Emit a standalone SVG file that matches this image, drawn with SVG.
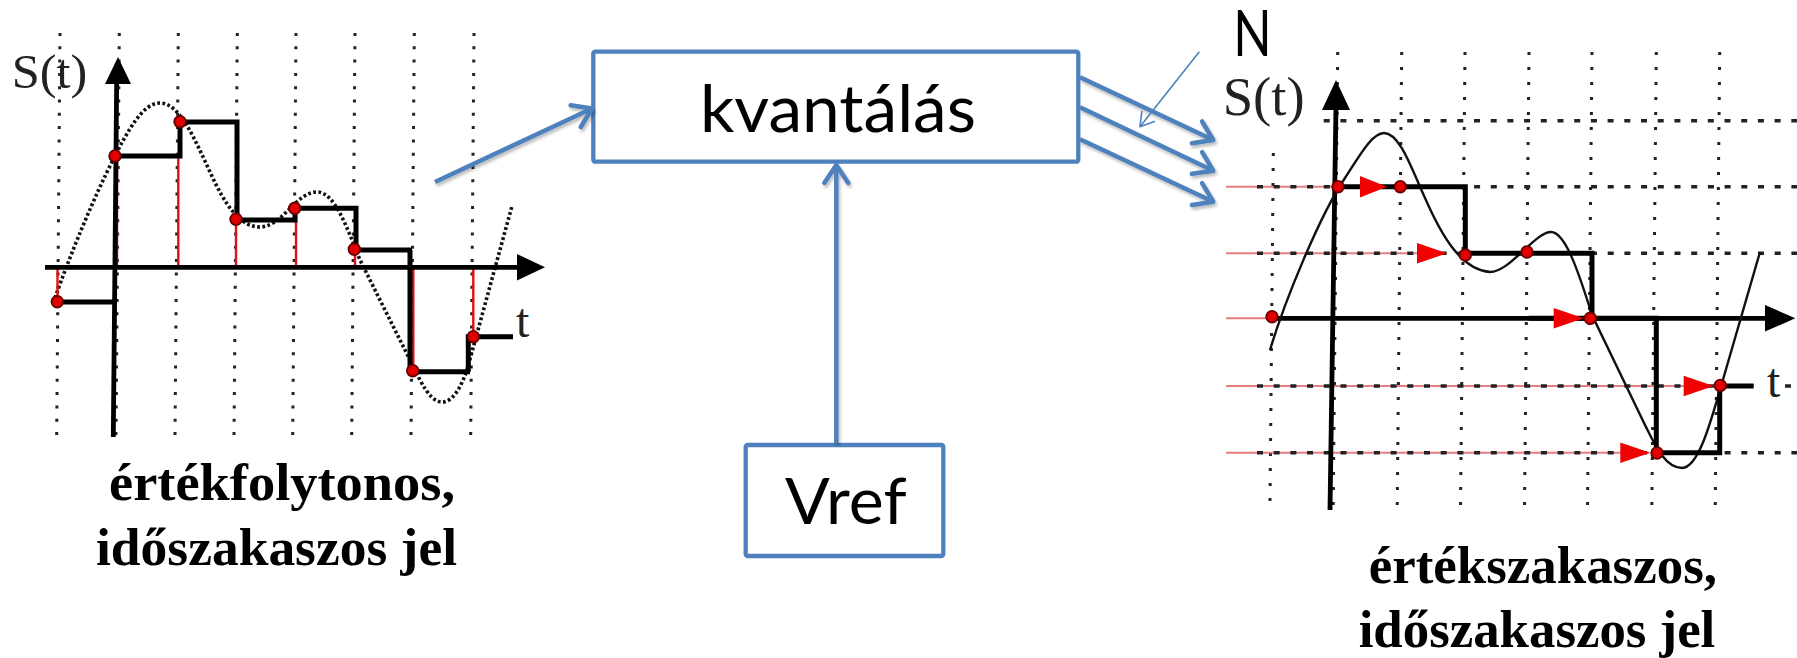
<svg xmlns="http://www.w3.org/2000/svg" width="1797" height="658" viewBox="0 0 1797 658">
<style>
.blue{fill:none;stroke:#4F81BD;stroke-width:4.5}
.box{fill:#fff;stroke:#4F81BD;stroke-width:4.3}
.lbl{font-family:Lato,"Open Sans","Liberation Sans",sans-serif;fill:#000}
.ser{font-family:"Liberation Serif","Times New Roman",serif}
.cap{font-family:"Liberation Serif","Times New Roman",serif;font-weight:bold;font-size:53px;fill:#000}
.vdotL{stroke:#222;stroke-width:3;stroke-dasharray:3 10.3;fill:none}
.vdotR{stroke:#222;stroke-width:3;stroke-dasharray:3 12;fill:none}
.hdash{stroke:#222;stroke-width:3.5;stroke-dasharray:6 10.7;fill:none}
.ax{stroke:#000;stroke-width:4.8;fill:none}
.step{stroke:#000;stroke-width:5;fill:none;stroke-linejoin:miter}
.redv{stroke:#e01010;stroke-width:2.4;fill:none}
.redh{stroke:#e06060;stroke-width:2;fill:none;opacity:0.8}
.dot{fill:#e00000;stroke:#600;stroke-width:1.8}
.rarr{fill:#f00000}
</style>
<defs>
<marker id="ah" markerUnits="userSpaceOnUse" viewBox="-24 -16 28 32" refX="0" refY="0" markerWidth="28" markerHeight="32" orient="auto" overflow="visible">
<path d="M-18,-12 L0,0 L-18,12" fill="none" stroke="#4F81BD" stroke-width="4.5" stroke-linecap="round" stroke-linejoin="round"/>
</marker>
<marker id="ahThin" markerUnits="userSpaceOnUse" viewBox="-16 -10 20 20" refX="0" refY="0" markerWidth="20" markerHeight="20" orient="auto" overflow="visible">
<path d="M-13,-8 L0,0 L-13,8" fill="none" stroke="#4F81BD" stroke-width="1.6" stroke-linecap="round" stroke-linejoin="round"/>
</marker>
<filter id="sh" x="-10%" y="-10%" width="130%" height="140%">
<feDropShadow dx="1.5" dy="2.5" stdDeviation="1.8" flood-color="#000" flood-opacity="0.28"/>
</filter>
</defs>

<!-- Left plot: continuous-value, discrete-time signal -->
<g id="left-plot">
<g>
<line class="vdotL" x1="60" y1="33" x2="56.7" y2="436"/>
<line class="vdotL" x1="119.3" y1="33" x2="116" y2="436"/>
<line class="vdotL" x1="178.3" y1="33" x2="175" y2="436"/>
<line class="vdotL" x1="237.3" y1="33" x2="234" y2="436"/>
<line class="vdotL" x1="296" y1="33" x2="292.7" y2="436"/>
<line class="vdotL" x1="355" y1="33" x2="351.7" y2="436"/>
<line class="vdotL" x1="414.3" y1="33" x2="411" y2="436"/>
<line class="vdotL" x1="474" y1="33" x2="470.7" y2="436"/>
</g>
<path d="M55,298 C70,255 95,195 113,160 C128,130 143,103 160,103 C180,103 195,140 210,172 C225,205 240,227 260,227 C282,227 296,192 317,192 C335,192 347,228 360,260 L420,380 C428,395 435,402 442,402 C452,402 460,390 467,370 L512,206" fill="none" stroke="#111" stroke-width="3.6" stroke-dasharray="2.8 2.4"/>
<g>
<line class="redv" x1="57.5" y1="267" x2="57.5" y2="302"/>
<line class="redv" x1="117" y1="156" x2="117" y2="267"/>
<line class="redv" x1="178.3" y1="156" x2="178.3" y2="267"/>
<line class="redv" x1="236" y1="220" x2="236" y2="267"/>
<line class="redv" x1="296" y1="208" x2="296" y2="267"/>
<line class="redv" x1="355" y1="250" x2="355" y2="267"/>
<line class="redv" x1="413.3" y1="267" x2="413.3" y2="371"/>
<line class="redv" x1="473.3" y1="267" x2="473.3" y2="337"/>
</g>
<line class="ax" x1="45" y1="267.3" x2="520" y2="267.3"/>
<polygon points="545,267.3 517,254 517,280.6" fill="#000"/>
<line class="ax" x1="116.7" y1="80" x2="113.3" y2="437"/>
<polygon points="118,57 105,84 131,84" fill="#000"/>
<path class="step" d="M57,302 H115 M115,156 H180 V122 H237 V220 H295 V208.3 H356 V250 H412 M410,250 V371.7 H470 M468.3,371.7 V336.7 H513"/>
<g>
<circle class="dot" cx="57.3" cy="301.7" r="5.8"/>
<circle class="dot" cx="115" cy="156" r="5.8"/>
<circle class="dot" cx="180" cy="121.7" r="5.8"/>
<circle class="dot" cx="236" cy="219.3" r="5.8"/>
<circle class="dot" cx="294.7" cy="208.3" r="5.8"/>
<circle class="dot" cx="354.3" cy="249.3" r="5.8"/>
<circle class="dot" cx="412.7" cy="370.7" r="5.8"/>
<circle class="dot" cx="473.3" cy="336.7" r="5.8"/>
</g>
<text class="ser" x="11.7" y="88.3" font-size="49" fill="#222" textLength="75.6" lengthAdjust="spacingAndGlyphs">S(t)</text>
<text class="ser" x="516" y="337" font-size="48" fill="#222">t</text>
<text class="cap" x="109" y="500" textLength="346" lengthAdjust="spacingAndGlyphs">értékfolytonos,</text>
<text class="cap" x="96" y="565" textLength="361" lengthAdjust="spacingAndGlyphs">időszakaszos jel</text>
</g>

<!-- Quantizer block -->
<g id="node-kvantalas">
<rect class="box" x="593.3" y="51.7" width="485" height="110" rx="2"/>
<text class="lbl" x="700" y="131.7" font-size="66" textLength="276" lengthAdjust="spacingAndGlyphs">kvantálás</text>
</g>

<!-- Reference voltage block -->
<g id="node-vref">
<rect class="box" x="745.7" y="445" width="197.6" height="111" rx="2"/>
<text class="lbl" x="785" y="524" font-size="64" textLength="121.7" lengthAdjust="spacingAndGlyphs">Vref</text>
</g>

<!-- N label -->
<g id="node-N">
<text class="lbl" x="1233.3" y="56" font-size="63" textLength="38.4" lengthAdjust="spacingAndGlyphs">N</text>
</g>

<!-- Connectors -->
<g id="connectors">
<g filter="url(#sh)">
<line class="blue" x1="435" y1="182" x2="592" y2="108.5" marker-end="url(#ah)"/>
<line class="blue" x1="836.3" y1="443" x2="836.3" y2="165" marker-end="url(#ah)"/>
<line class="blue" x1="1080" y1="77.3" x2="1213.3" y2="140" marker-end="url(#ah)"/>
<line class="blue" x1="1080" y1="107.3" x2="1213.3" y2="170.7" marker-end="url(#ah)"/>
<line class="blue" x1="1080" y1="139.3" x2="1213.3" y2="201.7" marker-end="url(#ah)"/>
</g>
<line x1="1199.3" y1="51.7" x2="1140" y2="126.7" stroke="#4F81BD" stroke-width="1.6" marker-end="url(#ahThin)"/>
</g>

<!-- Right plot: discrete-value, discrete-time signal -->
<g id="right-plot">
<g>
<line class="vdotR" x1="1273.3" y1="153" x2="1270" y2="502"/>
<line class="vdotR" x1="1337.7" y1="52" x2="1333.2" y2="508"/>
<line class="vdotR" x1="1401.7" y1="52" x2="1397.2" y2="508"/>
<line class="vdotR" x1="1465" y1="52" x2="1460.5" y2="508"/>
<line class="vdotR" x1="1529" y1="52" x2="1524.5" y2="508"/>
<line class="vdotR" x1="1592" y1="52" x2="1587.5" y2="508"/>
<line class="vdotR" x1="1656.3" y1="52" x2="1651.8" y2="508"/>
<line class="vdotR" x1="1719.7" y1="52" x2="1715.2" y2="508"/>
</g>
<g>
<line class="redh" x1="1226" y1="186.7" x2="1365" y2="186.7"/>
<line class="redh" x1="1226" y1="253.3" x2="1420" y2="253.3"/>
<line class="redh" x1="1226" y1="318.3" x2="1272" y2="318.3"/>
<line class="redh" x1="1226" y1="386" x2="1686" y2="386"/>
<line class="redh" x1="1226" y1="452.7" x2="1622" y2="452.7"/>
</g>
<g>
<line class="hdash" x1="1323.7" y1="120.7" x2="1797" y2="120.7"/>
<line class="hdash" x1="1257" y1="186.7" x2="1797" y2="186.7"/>
<line class="hdash" x1="1257" y1="253.3" x2="1797" y2="253.3"/>
<line class="hdash" x1="1257" y1="386" x2="1716" y2="386"/>
<line class="hdash" x1="1785" y1="386" x2="1792" y2="386"/>
<line class="hdash" x1="1257" y1="452.7" x2="1797" y2="452.7"/>
</g>
<line class="ax" x1="1276" y1="318.3" x2="1768" y2="318.3"/>
<polygon points="1795.3,318.3 1765,305 1765,331.6" fill="#000"/>
<line class="ax" x1="1336" y1="105" x2="1330" y2="510"/>
<polygon points="1336,80 1322,110 1350,110" fill="#000"/>
<path d="M1270,350 C1285,300 1320,215 1345,178 C1360,155 1372,133 1384,133 C1400,133 1412,170 1425,198 C1440,232 1460,270 1490,272 C1510,272 1535,232 1551,232 C1565,232 1578,270 1592,315 L1645,425 C1655,445 1665,468 1682,468 C1698,468 1710,425 1722,383 L1760,252" fill="none" stroke="#111" stroke-width="2.4"/>
<path class="step" d="M1336,186.7 H1465.3 V253.3 H1592 V318.3 M1528.7,318.3 H1656.3 V452.7 H1719.7 V386 H1753.7"/>
<g>
<polygon class="rarr" points="1360,176 1387,186.7 1360,197.4"/>
<polygon class="rarr" points="1417,243 1447,253.3 1417,263.6"/>
<polygon class="rarr" points="1553.7,308 1583.7,318.3 1553.7,328.6"/>
<polygon class="rarr" points="1683.7,375.7 1713.7,386 1683.7,396.3"/>
<polygon class="rarr" points="1620.3,442.4 1650.3,452.7 1620.3,463"/>
</g>
<g>
<circle class="dot" cx="1272" cy="316.7" r="5.8"/>
<circle class="dot" cx="1338" cy="186.7" r="5.8"/>
<circle class="dot" cx="1400.3" cy="186.7" r="5.8"/>
<circle class="dot" cx="1465.3" cy="255" r="5.8"/>
<circle class="dot" cx="1527" cy="252" r="5.8"/>
<circle class="dot" cx="1590.3" cy="318.3" r="5.8"/>
<circle class="dot" cx="1657" cy="453" r="5.8"/>
<circle class="dot" cx="1720.3" cy="385.5" r="5.8"/>
</g>
<text class="ser" x="1222.7" y="115" font-size="54" fill="#222" textLength="82" lengthAdjust="spacingAndGlyphs">S(t)</text>
<text class="ser" x="1767" y="397" font-size="48" fill="#222">t</text>
<text class="cap" x="1368.7" y="583" textLength="348.3" lengthAdjust="spacingAndGlyphs">értékszakaszos,</text>
<text class="cap" x="1358.7" y="646.7" textLength="356.6" lengthAdjust="spacingAndGlyphs">időszakaszos jel</text>
</g>
</svg>
